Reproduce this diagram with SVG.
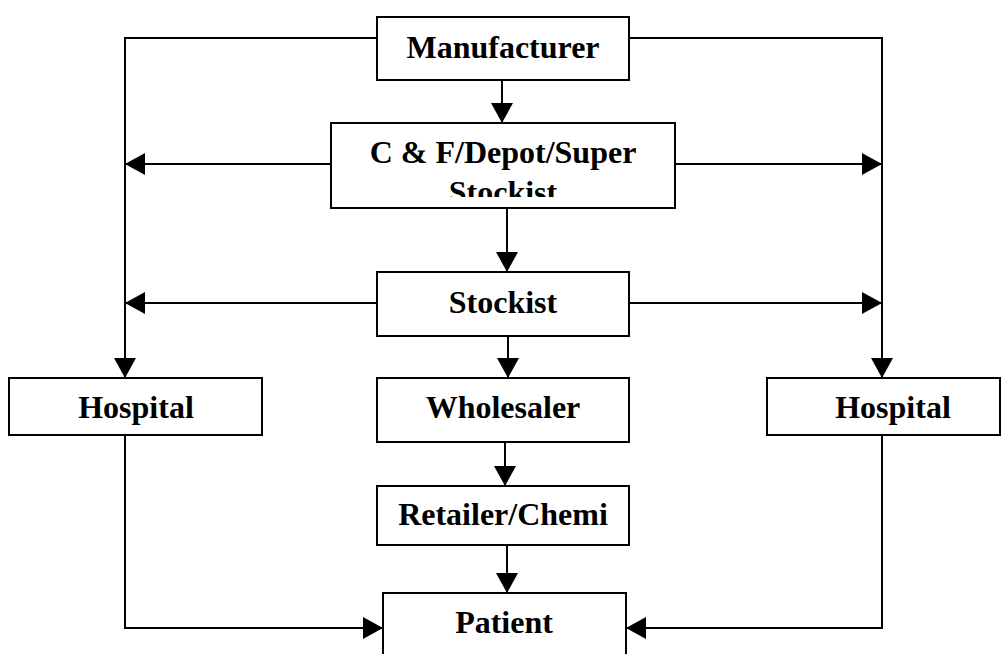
<svg xmlns="http://www.w3.org/2000/svg" width="1008" height="654" viewBox="0 0 1008 654">
<style>
.box{fill:#fff;stroke:#000;stroke-width:2}
.lbl{font-family:"Liberation Serif","Times New Roman",serif;font-weight:bold;font-size:32px;fill:#000;text-anchor:middle}
.ln{fill:none;stroke:#000;stroke-width:2}
</style>
<defs>
<marker id="ah" markerUnits="userSpaceOnUse" markerWidth="22" markerHeight="22" refX="20" refY="11" orient="auto" viewBox="0 0 22 22">
<path d="M0,0 L20,11 L0,22 Z" fill="#000"/>
</marker>
<clipPath id="cfclip"><rect x="331" y="123" width="344" height="74"/></clipPath>
</defs>
<g id="connectors">
<path class="ln" d="M377,38 H125 V378" marker-end="url(#ah)"/>
<path class="ln" d="M629,38 H882 V378" marker-end="url(#ah)"/>
<path class="ln" d="M502,80 V123" marker-end="url(#ah)"/>
<path class="ln" d="M331,164 H125" marker-end="url(#ah)"/>
<path class="ln" d="M675,164 H882" marker-end="url(#ah)"/>
<path class="ln" d="M507,208 V272" marker-end="url(#ah)"/>
<path class="ln" d="M377,303 H125" marker-end="url(#ah)"/>
<path class="ln" d="M629,303 H882" marker-end="url(#ah)"/>
<path class="ln" d="M508,336 V378" marker-end="url(#ah)"/>
<path class="ln" d="M505,442 V486" marker-end="url(#ah)"/>
<path class="ln" d="M507,545 V593" marker-end="url(#ah)"/>
<path class="ln" d="M125,435 V628 H383" marker-end="url(#ah)"/>
<path class="ln" d="M882,435 V628 H626" marker-end="url(#ah)"/>
</g>
<g id="manufacturer">
<rect class="box" x="377" y="17" width="252" height="63"/>
<text class="lbl" x="503" y="58">Manufacturer</text>
</g>
<g id="cf-depot">
<rect class="box" x="331" y="123" width="344" height="85"/>
<g clip-path="url(#cfclip)">
<text class="lbl" x="503" y="163">C &amp; F/Depot/Super</text>
<text class="lbl" x="503" y="203">Stockist</text>
</g>
</g>
<g id="stockist">
<rect class="box" x="377" y="272" width="252" height="64"/>
<text class="lbl" x="503" y="313">Stockist</text>
</g>
<g id="hospital-left">
<rect class="box" x="9" y="378" width="253" height="57"/>
<text class="lbl" x="136" y="418">Hospital</text>
</g>
<g id="wholesaler">
<rect class="box" x="377" y="378" width="252" height="64"/>
<text class="lbl" x="503" y="418">Wholesaler</text>
</g>
<g id="hospital-right">
<rect class="box" x="767" y="378" width="233" height="57"/>
<text class="lbl" x="893" y="418">Hospital</text>
</g>
<g id="retailer">
<rect class="box" x="377" y="486" width="252" height="59"/>
<text class="lbl" x="503" y="525">Retailer/Chemi</text>
</g>
<g id="patient">
<rect class="box" x="383" y="593" width="243" height="80"/>
<text class="lbl" x="504" y="633">Patient</text>
</g>
</svg>
